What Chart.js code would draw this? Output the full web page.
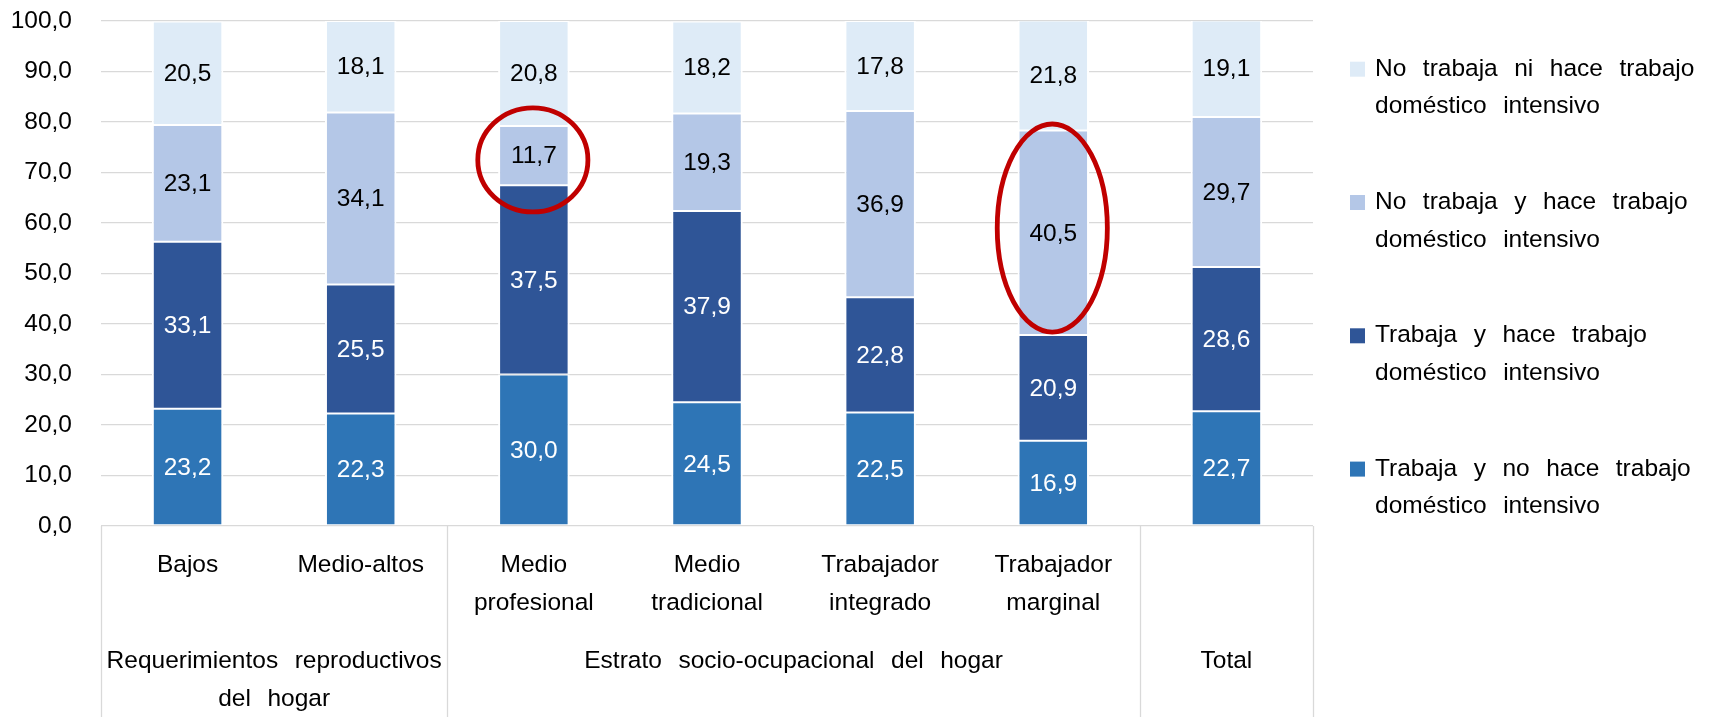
<!DOCTYPE html>
<html>
<head>
<meta charset="utf-8">
<script src="https://cdn.jsdelivr.net/npm/chart.js@4.4.1/dist/chart.umd.min.js"></script>
<style>
    html, body { margin: 0; padding: 0; background: #fff; }
    #wrap { width: 1714px; height: 717px; }
</style>
</head>
<body>
<div id="wrap"><canvas id="chart" width="1714" height="717"></canvas></div>
<script>
// categories (first row of the axis table)
const categories = [
    ['Bajos'],
    ['Medio-altos'],
    ['Medio', 'profesional'],
    ['Medio', 'tradicional'],
    ['Trabajador', 'integrado'],
    ['Trabajador', 'marginal'],
    [],
];
// second row of the axis table: label + first and last category index
const groupLabels = [['Requerimientos reproductivos', 'del hogar'], ['Estrato socio-ocupacional del hogar'], ['Total']];
const groupFrom = [0, 2, 6];
const groupTo = [1, 5, 6];

const trabajaNoHace = [23.2, 22.3, 30.0, 24.5, 22.5, 16.9, 22.7];
const trabajaHace = [33.1, 25.5, 37.5, 37.9, 22.8, 20.9, 28.6];
const noTrabajaHace = [23.1, 34.1, 11.7, 19.3, 36.9, 40.5, 29.7];
const noTrabajaNi = [20.5, 18.1, 20.8, 18.2, 17.8, 21.8, 19.1];

const seriesNames = [
    ['Trabaja y no hace trabajo', 'doméstico intensivo'],
    ['Trabaja y hace trabajo', 'doméstico intensivo'],
    ['No trabaja y hace trabajo', 'doméstico intensivo'],
    ['No trabaja ni hace trabajo', 'doméstico intensivo'],
];
const yTicks = [0, 10, 20, 30, 40, 50, 60, 70, 80, 90, 100];

// circled segments: category index, centre value, half height (in values)
const circleIndex = [2, 5];
const circleCenter = [72.5, 59.0];
const circleHalf = [10.3, 20.6];

const colors = ['#2E75B6', '#2F5597', '#B4C7E7', '#DEEBF7'];
const labelColors = ['#fff', '#fff', '#000', '#000'];
const FONT = '24.5px "Liberation Sans", Arial, sans-serif';
const WORD_GAP = 16.5;
const LINE_COLOR = '#d9d9d9';

const fmt = v => Number(v).toFixed(1).replace('.', ',');

// draws text with Excel-like wide word gaps
const drawWords = (ctx, text, x, y, align) => {
    const words = text.split(' ');
    const widths = words.map(w => ctx.measureText(w).width);
    const total = widths.reduce((a, b) => a + b, 0) + WORD_GAP * (words.length - 1);
    let cx = align === 'center' ? x - total / 2 : x;
    ctx.textAlign = 'left';
    words.forEach((w, i) => {
        ctx.fillText(w, cx, y);
        cx += widths[i] + WORD_GAP;
    });
};

const decorations = {
    id: 'decorations',
    afterDatasetsDraw(chart) {
        const { ctx, chartArea, scales: { x, y } } = chart;
        ctx.save();

        // value labels
        ctx.font = FONT;
        ctx.textBaseline = 'middle';
        ctx.textAlign = 'center';
        chart.data.datasets.forEach((ds, di) => {
            const meta = chart.getDatasetMeta(di);
            ctx.fillStyle = labelColors[di];
            meta.data.forEach((bar, i) => {
                const p = bar.getProps(['x', 'y', 'base'], true);
                ctx.fillText(fmt(ds.data[i]), p.x, (p.y + p.base) / 2 + 1);
            });
        });

        // red ellipses
        const step = x.getPixelForValue(1) - x.getPixelForValue(0);
        ctx.strokeStyle = '#C00000';
        ctx.lineWidth = 4.8;
        circleIndex.forEach((ci, k) => {
            const cx = x.getPixelForValue(ci);
            const cy = y.getPixelForValue(circleCenter[k]);
            const ry = y.getPixelForValue(circleCenter[k] - circleHalf[k]) - cy;
            ctx.beginPath();
            ctx.ellipse(cx - 1, cy, step * 0.318, ry, 0, 0, Math.PI * 2);
            ctx.stroke();
        });

        // axis table lines
        const bottom = chart.height;
        const edgeAt = idx => idx <= 0 ? chartArea.left
            : idx >= categories.length ? chartArea.right
            : (x.getPixelForValue(idx - 1) + x.getPixelForValue(idx)) / 2;
        ctx.strokeStyle = LINE_COLOR;
        ctx.lineWidth = 1.3;
        const edges = [0, ...groupTo.map(t => t + 1)];
        edges.forEach(e => {
            const px = Math.round(edgeAt(e)) + 0.5;
            ctx.beginPath();
            ctx.moveTo(px, chartArea.bottom);
            ctx.lineTo(px, bottom);
            ctx.stroke();
        });

        // category labels
        ctx.fillStyle = '#000';
        ctx.font = FONT;
        ctx.textBaseline = 'alphabetic';
        categories.forEach((lines, i) => {
            const cx = x.getPixelForValue(i);
            lines.forEach((line, li) => drawWords(ctx, line, cx, chartArea.bottom + 46 + li * 38, 'center'));
        });
        groupLabels.forEach((lines, g) => {
            const cx = (edgeAt(groupFrom[g]) + edgeAt(groupTo[g] + 1)) / 2;
            lines.forEach((line, li) => drawWords(ctx, line, cx, chartArea.bottom + 142 + li * 38, 'center'));
        });

        // legend (top item = last series)
        const lx = chartArea.right + 37;
        const order = [3, 2, 1, 0];
        order.forEach((si, k) => {
            const base = chartArea.top + 54.7 + k * 133.3;
            ctx.fillStyle = colors[si];
            ctx.fillRect(lx, base - 14, 15, 15);
            ctx.fillStyle = '#000';
            seriesNames[si].forEach((line, li) => drawWords(ctx, line, lx + 25, base + li * 37.6, 'left'));
        });

        ctx.restore();
    },
};

const datasets = [trabajaNoHace, trabajaHace, noTrabajaHace, noTrabajaNi].map((data, i) => ({
    label: seriesNames[i].join(' '),
    data,
    backgroundColor: colors[i],
    borderColor: '#fff',
    borderWidth: { top: 1, bottom: 1, left: 2, right: 2 },
    borderSkipped: false,
    barPercentage: 0.413,
    categoryPercentage: 1,
}));

new Chart(document.getElementById('chart'), {
    type: 'bar',
    data: {
        labels: categories.map(c => c.join(' ')),
        datasets,
    },
    options: {
        responsive: false,
        animation: false,
        layout: { padding: { left: 0, right: 401, top: 21, bottom: 191 } },
        plugins: {
            legend: { display: false },
            tooltip: { enabled: false },
        },
        scales: {
            x: {
                stacked: true,
                display: false,
            },
            y: {
                stacked: true,
                min: 0,
                max: 100,
                afterFit: scale => {
                    scale.width = 101;
                    scale.paddingTop = 0;
                    scale.paddingBottom = 0;
                },
                afterBuildTicks: scale => { scale.ticks = yTicks.map(v => ({ value: v })); },
                border: { display: false },
                grid: { color: LINE_COLOR, lineWidth: 1.3, drawTicks: false },
                ticks: {
                    padding: 29,
                    color: '#000',
                    font: { family: '"Liberation Sans", Arial, sans-serif', size: 24.5 },
                    callback: v => fmt(v),
                },
            },
        },
    },
    plugins: [decorations],
});
</script>
</body>
</html>
